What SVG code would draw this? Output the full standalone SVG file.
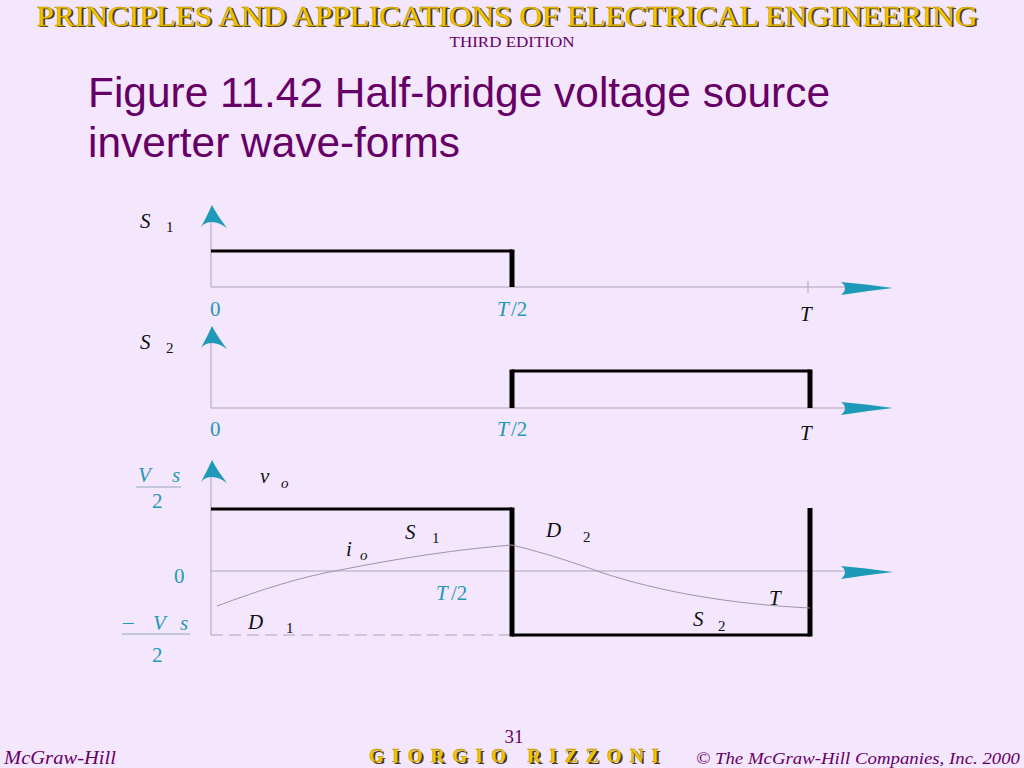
<svg xmlns="http://www.w3.org/2000/svg" xmlns:xlink="http://www.w3.org/1999/xlink" width="1024" height="768" viewBox="0 0 1024 768">
<style>
.hdr{font-family:"Liberation Serif",serif;fill:#F2C700;stroke:#B08A00;stroke-width:0.4}
.shd{font-family:"Liberation Serif",serif;fill:#4A3A10}
.pur{font-family:"Liberation Serif",serif;fill:#660066}
.ttl{font-family:"Liberation Sans",Arial,sans-serif;fill:#660066;font-size:43px}
.it{font-family:"Liberation Serif",serif;font-style:italic;font-size:21px;fill:#111}
.sub{font-family:"Liberation Serif",serif;font-size:15px;fill:#111}
.subi{font-family:"Liberation Serif",serif;font-style:italic;font-size:15px;fill:#111}
.cy{font-family:"Liberation Serif",serif;font-size:21px;fill:#1E9AB4}
.cyi{font-family:"Liberation Serif",serif;font-style:italic;font-size:21px;fill:#1E9AB4}
.ax{stroke:#A9A2BC;stroke-width:1;fill:none}
.sig{stroke:#000;fill:none;stroke-linecap:butt}
.arr{fill:#1E9AB8}
.cur{stroke:#9C94AE;stroke-width:1;fill:none}
</style>
<defs>
<path id="up" d="M0,0 Q5,10 15,23 Q7,17 0,17 Q-7,17 -11,22 Q-5,11 0,0Z"/>
<path id="rt" d="M0,0 Q-28,-4 -52,-6 Q-44,0 -52,7 Q-27,3 0,0Z"/>
</defs>
<rect width="1024" height="768" fill="#F4E6FC"/>

<g id="header">
<text class="shd" x="509" y="27" font-size="29" text-anchor="middle" textLength="941" lengthAdjust="spacingAndGlyphs">PRINCIPLES AND APPLICATIONS OF ELECTRICAL ENGINEERING</text>
<text class="hdr" x="507" y="26" font-size="29" text-anchor="middle" textLength="941" lengthAdjust="spacingAndGlyphs">PRINCIPLES AND APPLICATIONS OF ELECTRICAL ENGINEERING</text>
<text class="pur" x="512" y="47" font-size="15" text-anchor="middle" textLength="125" lengthAdjust="spacingAndGlyphs">THIRD EDITION</text>
</g>

<g id="title">
<text class="ttl" x="88" y="107" textLength="742" lengthAdjust="spacingAndGlyphs">Figure 11.42 Half-bridge voltage source</text>
<text class="ttl" x="88" y="157" textLength="372" lengthAdjust="spacingAndGlyphs">inverter wave-forms</text>
</g>

<g id="connectors">
<line class="ax" x1="211" y1="215" x2="211" y2="287"/>
<line class="ax" x1="211" y1="287" x2="870" y2="287"/>
<line class="ax" x1="808" y1="281" x2="808" y2="293"/>
<line class="ax" x1="211" y1="336" x2="211" y2="408"/>
<line class="ax" x1="211" y1="408" x2="870" y2="408"/>
<line class="ax" x1="211" y1="470" x2="211" y2="635"/>
<line class="ax" x1="211" y1="571" x2="870" y2="571"/>
<line x1="211" y1="635" x2="512" y2="635" stroke="#A9A2BC" stroke-width="1" stroke-dasharray="12,6"/>
<use href="#up" class="arr" x="212" y="205"/>
<use href="#up" class="arr" x="212" y="326"/>
<use href="#up" class="arr" x="212" y="460"/>
<use href="#rt" class="arr" x="893" y="288"/>
<use href="#rt" class="arr" x="893" y="408"/>
<use href="#rt" class="arr" x="893" y="572"/>
</g>

<g id="s1-wave">
<line class="sig" stroke-width="3" x1="211" y1="251" x2="512" y2="251"/>
<line class="sig" stroke-width="5" x1="512" y1="249.5" x2="512" y2="287"/>
</g>

<g id="s2-wave">
<line class="sig" stroke-width="3" x1="512" y1="371" x2="810" y2="371"/>
<line class="sig" stroke-width="5" x1="512" y1="369.5" x2="512" y2="408"/>
<line class="sig" stroke-width="5" x1="810" y1="369.5" x2="810" y2="408"/>
</g>

<g id="vo-wave">
<line class="sig" stroke-width="3" x1="211" y1="509" x2="512" y2="509"/>
<line class="sig" stroke-width="5" x1="512" y1="507.5" x2="512" y2="636.5"/>
<line class="sig" stroke-width="3" x1="512" y1="635" x2="810" y2="635"/>
<line class="sig" stroke-width="5" x1="810" y1="508" x2="810" y2="636.5"/>
</g>

<g id="io-wave">
<path class="cur" d="M217,606 C260,590 300,577 340,570 C400,558 460,549 512,545"/>
<path class="cur" d="M512,545 C545,553 575,563 600,572 C660,592 730,604 810,608"/>
</g>

<g id="labels-p1">
<text class="it" x="140" y="228">S</text>
<text class="sub" x="166" y="232">1</text>
<text class="cy" x="210" y="316">0</text>
<text class="cyi" x="497" y="316">T</text>
<text class="cy" x="511" y="316">/2</text>
<text class="it" x="800" y="321">T</text>
</g>

<g id="labels-p2">
<text class="it" x="140" y="349">S</text>
<text class="sub" x="166" y="353">2</text>
<text class="cy" x="210" y="436">0</text>
<text class="cyi" x="497" y="436">T</text>
<text class="cy" x="511" y="436">/2</text>
<text class="it" x="800" y="440">T</text>
</g>

<g id="labels-p3">
<text class="cyi" x="138" y="482">V</text>
<text class="cyi" x="172" y="482">s</text>
<line x1="136" y1="487" x2="181" y2="487" stroke="#8FA8C0" stroke-width="1"/>
<text class="cy" x="152" y="508">2</text>
<text class="it" x="260" y="483">v</text>
<text class="subi" x="281" y="488">o</text>
<text class="it" x="405" y="539">S</text>
<text class="sub" x="432" y="543">1</text>
<text class="it" x="346" y="556">i</text>
<text class="subi" x="360" y="560">o</text>
<text class="cy" x="174" y="583">0</text>
<text class="cyi" x="436" y="600">T</text>
<text class="cy" x="451" y="600">/2</text>
<text class="it" x="248" y="629">D</text>
<text class="sub" x="286" y="633">1</text>
<text class="cy" x="123" y="629">–</text>
<text class="cyi" x="153" y="630">V</text>
<text class="cyi" x="180" y="630">s</text>
<line x1="122" y1="634" x2="190" y2="634" stroke="#8FA8C0" stroke-width="1"/>
<text class="cy" x="152" y="662">2</text>
<text class="it" x="546" y="537">D</text>
<text class="sub" x="583" y="542">2</text>
<text class="it" x="769" y="605">T</text>
<text class="it" x="693" y="626">S</text>
<text class="sub" x="718" y="631">2</text>
</g>

<g id="footer">
<text class="pur" x="514" y="743" font-size="19" text-anchor="middle">31</text>
<text class="pur" x="4" y="764" font-size="18" font-style="italic" textLength="112" lengthAdjust="spacingAndGlyphs">McGraw-Hill</text>
<text class="shd" x="371" y="764" font-size="19" font-weight="bold" textLength="290" lengthAdjust="spacing">GIORGIO RIZZONI</text>
<text class="hdr" x="369" y="762" font-size="19" font-weight="bold" textLength="290" lengthAdjust="spacing">GIORGIO RIZZONI</text>
<text class="pur" x="696" y="764" font-size="17" font-style="italic" textLength="324" lengthAdjust="spacingAndGlyphs">© The McGraw-Hill Companies, Inc. 2000</text>
</g>
</svg>
